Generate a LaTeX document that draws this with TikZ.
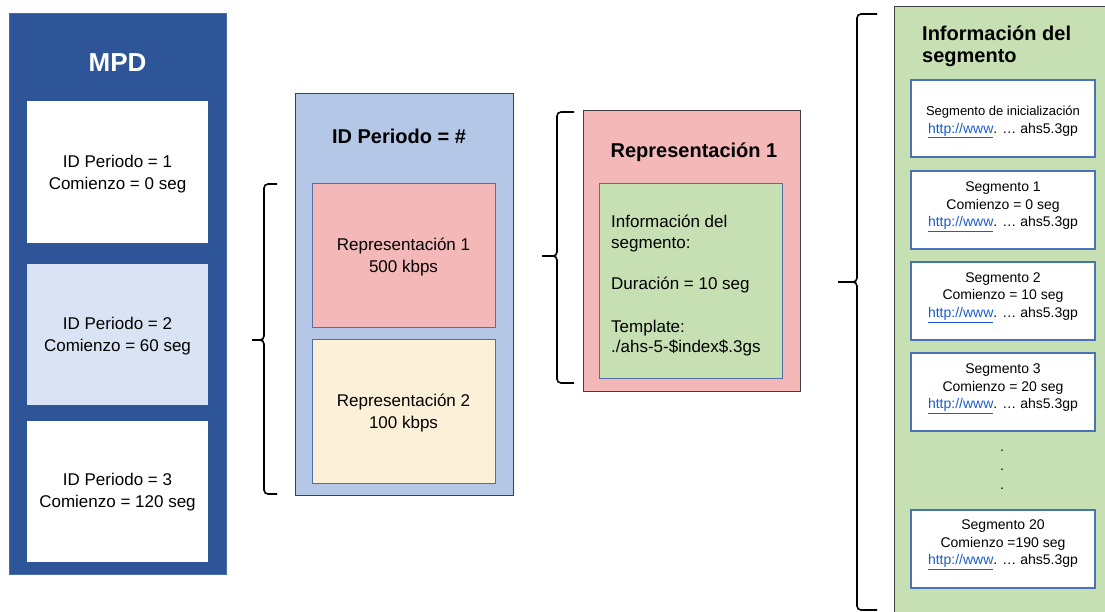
\documentclass[tikz,border=0pt]{standalone}
\usepackage{fontspec}
\setmainfont{Liberation Sans}
\definecolor{mpdblue}{HTML}{2E5597}
\definecolor{mpdedge}{HTML}{4A6DA8}
\definecolor{paleblue}{HTML}{DAE3F3}
\definecolor{perblue}{HTML}{B4C7E7}
\definecolor{pinkfill}{HTML}{F4B8B8}
\definecolor{creamfill}{HTML}{FCF0D8}
\definecolor{greenfill}{HTML}{C6E0B4}
\definecolor{inedge}{HTML}{4F6FA6}
\definecolor{segedge}{HTML}{4A72B8}
\definecolor{darkedge}{HTML}{3F3F3F}
\definecolor{linkblue}{HTML}{1A5DCC}
\newcommand{\lnk}{\textcolor{linkblue}{\underline{http://www}}. … ahs5.3gp}
\tikzset{
  box/.style={draw, inner sep=0pt, align=center, line width=0.8pt},
  bodytext/.style={font=\fontsize{17pt}{21.5pt}\selectfont},
  segtext/.style={font=\fontsize{14pt}{17.5pt}\selectfont, align=center, inner sep=0pt},
  titletext/.style={font=\fontsize{20pt}{22pt}\selectfont\bfseries},
  bracepath/.style={line width=1.6pt, black, rounded corners=4pt},
  segbox/.style={box, draw=segedge, line width=1.2pt, fill=white, minimum width=184pt, minimum height=78pt},
}
\begin{document}
\begin{tikzpicture}[x=1pt,y=-1pt]
\useasboundingbox (0,0) rectangle (1105,612);
% MPD column
\node[box, draw=mpdedge, fill=mpdblue, minimum width=217pt, minimum height=561pt] (mpd) at (117.5,293.5) {};
\node[font=\fontsize{26pt}{28pt}\selectfont\bfseries, text=white] (mpdt) at (117.5,63) {MPD};
\node[box, draw=none, fill=white, minimum width=181pt, minimum height=142pt] (p1) at (117.5,172) {};
\node[bodytext, align=center, inner sep=0pt] (p1t) at (117.5,174) {ID Periodo = 1\\Comienzo = 0 seg};
\node[box, draw=none, fill=paleblue, minimum width=181pt, minimum height=141pt] (p2) at (117.5,334.5) {};
\node[bodytext, align=center, inner sep=0pt] (p2t) at (117.5,336) {ID Periodo = 2\\Comienzo = 60 seg};
\node[box, draw=none, fill=white, minimum width=181pt, minimum height=141pt] (p3) at (117.5,491) {};
\node[bodytext, align=center, inner sep=0pt] (p3t) at (117.5,492) {ID Periodo = 3\\Comienzo = 120 seg};
% brace 1
\coordinate (b1t) at (277,184);
\coordinate (b1b) at (277,494);
\coordinate (b1m) at (264,340);
\coordinate (b1tip) at (252,340);
\draw[bracepath] (b1t) -| (b1m) -- (b1tip);
\draw[bracepath] (b1b) -| (b1m) -- (b1tip);
% Period box
\node[box, draw=darkedge, fill=perblue, minimum width=218pt, minimum height=402pt] (per) at (404,294) {};
\node[titletext] (pert) at (399,136) {ID Periodo = \#};
\node[box, draw=inedge, fill=pinkfill, minimum width=183pt, minimum height=144pt] (r1) at (403.5,255) {};
\node[bodytext, align=center, inner sep=0pt] (r1t) at (403.5,257) {Representación 1\\500 kbps};
\node[box, draw=inedge, fill=creamfill, minimum width=183pt, minimum height=144pt] (r2) at (403.5,411) {};
\node[bodytext, align=center, inner sep=0pt] (r2t) at (403.5,413) {Representación 2\\100 kbps};
% brace 2
\coordinate (b2t) at (574,112);
\coordinate (b2b) at (574,383);
\coordinate (b2m) at (557,256);
\coordinate (b2tip) at (542,256);
\draw[bracepath] (b2t) -| (b2m) -- (b2tip);
\draw[bracepath] (b2b) -| (b2m) -- (b2tip);
% Representation box
\node[box, draw=darkedge, fill=pinkfill, minimum width=217pt, minimum height=281pt] (rep) at (691.5,250.5) {};
\node[titletext] (rept) at (694,152) {Representación 1};
\node[box, draw=inedge, fill=greenfill, minimum width=183pt, minimum height=195pt] (grn) at (690.5,280.5) {};
\node[bodytext, inner sep=0pt, anchor=base west] (g1) at (611,228) {Información del};
\node[bodytext, inner sep=0pt, anchor=base west] (g2) at (611,248.5) {segmento:};
\node[bodytext, inner sep=0pt, anchor=base west] (g3) at (611,290) {Duración = 10 seg};
\node[bodytext, inner sep=0pt, anchor=base west] (g4) at (611,332) {Template:};
\node[bodytext, inner sep=0pt, anchor=base west] (g5) at (611,352.5) {./ahs-5-\$index\$.3gs};
% brace 3
\coordinate (b3t) at (877,14);
\coordinate (b3b) at (877,610);
\coordinate (b3m) at (857,282);
\coordinate (b3tip) at (838,282);
\draw[bracepath] (b3t) -| (b3m) -- (b3tip);
\draw[bracepath] (b3b) -| (b3m) -- (b3tip);
% Segment info box
\node[box, draw=darkedge, fill=greenfill, minimum width=214pt, minimum height=609pt] (seg) at (1001,310.5) {};
\node[titletext, inner sep=0pt, anchor=base west] (segt1) at (922,41) {Información del};
\node[titletext, inner sep=0pt, anchor=base west] (segt2) at (922,63) {segmento};
\node[segbox, minimum height=77pt] (s0) at (1003,118.5) {};
\node[segtext] (s0t) at (1003,122) {{\fontsize{13pt}{17pt}\selectfont Segmento de inicialización}\\\lnk};
\node[segbox] (s1) at (1003,210) {};
\node[segtext] (s1t) at (1003,207) {Segmento 1\\Comienzo = 0 seg\\\lnk};
\node[segbox] (s2) at (1003,301) {};
\node[segtext] (s2t) at (1003,297.5) {Segmento 2\\Comienzo = 10 seg\\\lnk};
\node[segbox] (s3) at (1003,392) {};
\node[segtext] (s3t) at (1003,389) {Segmento 3\\Comienzo = 20 seg\\\lnk};
\node[segtext, anchor=base] (d1) at (1002,451) {.};
\node[segtext, anchor=base] (d2) at (1002,470) {.};
\node[segtext, anchor=base] (d3) at (1002,489) {.};
\node[segbox] (s20) at (1003,549) {};
\node[segtext] (s20t) at (1003,545) {Segmento 20\\Comienzo =190 seg\\\lnk};
\end{tikzpicture}
\end{document}
